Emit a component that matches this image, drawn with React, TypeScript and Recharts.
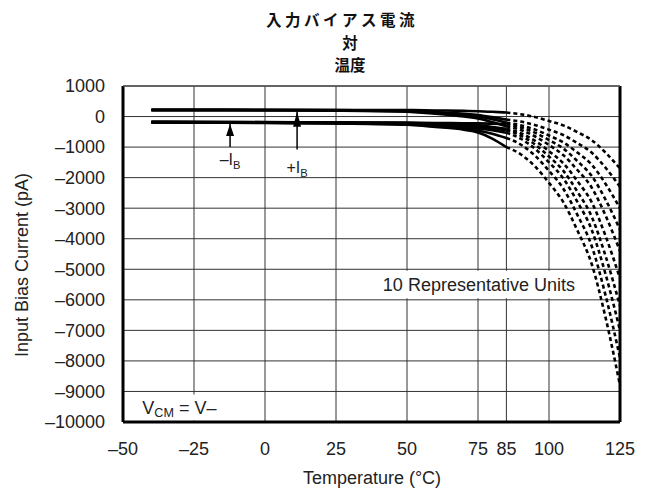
import { LineChart, Line, XAxis, YAxis, CartesianGrid, ReferenceLine, ReferenceArea, ReferenceDot } from 'recharts'

// temperatures (°C) of the read-off points
const solidTemps = [-40, -25, 0, 25, 50, 60, 70, 75, 80, 85]
const dashTemps = [85, 90, 95, 100, 105, 110, 115, 120, 125]

// input bias current (pA), one row per unit, measured range (solid)
const solidCurves: number[][] = [
  [220, 220, 220, 215, 210, 200, 185, 175, 155, 130],
  [220, 220, 215, 210, 190, 150, 90, 50, -20, -100],
  [215, 215, 210, 200, 170, 120, 50, 0, -90, -200],
  [-170, -175, -180, -190, -200, -210, -220, -225, -235, -250],
  [210, 210, 205, 195, 160, 90, 0, -60, -180, -320],
  [-175, -180, -185, -195, -210, -230, -260, -290, -340, -400],
  [-180, -185, -195, -205, -225, -260, -310, -340, -390, -450],
  [-185, -190, -200, -215, -240, -290, -350, -390, -450, -530],
  [-190, -195, -205, -220, -255, -320, -400, -460, -560, -700],
  [-195, -200, -210, -230, -270, -340, -430, -520, -720, -1000],
]

// same units above 85°C (dashed)
const dashCurves: number[][] = [
  [130, 75, -15, -145, -290, -510, -770, -1190, -1700],
  [-100, -165, -275, -430, -605, -870, -1180, -1685, -2300],
  [-200, -285, -425, -620, -845, -1180, -1570, -2215, -3000],
  [-250, -355, -525, -770, -1045, -1460, -1940, -2735, -3700],
  [-320, -440, -645, -930, -1260, -1750, -2320, -3260, -4400],
  [-400, -545, -790, -1135, -1525, -2115, -2800, -3930, -5300],
  [-450, -620, -910, -1310, -1770, -2460, -3270, -4590, -6200],
  [-530, -725, -1050, -1500, -2020, -2795, -3700, -5190, -7000],
  [-700, -915, -1275, -1780, -2355, -3220, -4230, -5885, -7900],
  [-1000, -1235, -1625, -2170, -2795, -3730, -4820, -6615, -8800],
]

const xTicks = [-50, -25, 0, 25, 50, 75, 85, 100, 125]
const yTicks = [1000, 0, -1000, -2000, -3000, -4000, -5000, -6000, -7000, -8000, -9000, -10000]
const titleLines = ['入力バイアス電流', '対', '温度']

const temps = Array.from(new Set([...solidTemps, ...dashTemps])).sort((a, b) => a - b)
const data = temps.map((t) => {
  const row: Record<string, number> = { t }
  const si = solidTemps.indexOf(t)
  const di = dashTemps.indexOf(t)
  solidCurves.forEach((c, i) => { if (si >= 0) row[`s${i}`] = c[si] })
  dashCurves.forEach((c, i) => { if (di >= 0) row[`d${i}`] = c[di] })
  return row
})

const FONT = '"Liberation Sans", Arial, Helvetica, sans-serif'
const fmt = (v: number) => (v < 0 ? `\u2013${Math.abs(v)}` : `${v}`)
const tickStyle = { fill: '#222', fontSize: 18, fontFamily: FONT }

const arrowHead = (h: number) => (p: any) => (
  <polygon points={`${p.cx},${p.cy} ${p.cx - 4},${p.cy + h} ${p.cx + 4},${p.cy + h}`} fill="#000" />
)

const subLabel = (main: string, sub: string, tail: string, size: number, anchor: string) => (p: any) => (
  <text x={p.cx} y={p.cy} textAnchor={anchor as any} dominantBaseline="central" fontFamily={FONT} fontSize={size} fill="#222">
    {main}
    <tspan fontSize={size * 0.7} dy={5}>{sub}</tspan>
    {tail && <tspan dy={-5}>{tail}</tspan>}
  </text>
)

export default function App() {
  return (
    <div style={{ position: 'absolute', left: 0, top: 0, width: 646, height: 493, background: '#fff' }}>
      {titleLines.map((s, i) => (
        <div key={s} style={{
          position: 'absolute', left: (i === 0 ? 342 : 350) - 100, top: 8 + i * 22.5, width: 200, height: 22,
          textAlign: 'center', fontFamily: '"Noto Sans CJK JP", sans-serif', fontWeight: 700, fontSize: 15.5,
          lineHeight: '22px', letterSpacing: i === 0 ? 3.5 : 0, color: '#111', whiteSpace: 'nowrap',
        }}>{s}</div>
      ))}
      <div style={{ position: 'absolute', left: 22 - 130, top: 265 - 12, width: 260, height: 24, lineHeight: '24px', textAlign: 'center', transform: 'rotate(-90deg)', fontFamily: FONT, fontSize: 18, color: '#222' }}>
        Input Bias Current (pA)
      </div>
      <div style={{ position: 'absolute', left: 222, top: 466, width: 300, textAlign: 'center', fontFamily: FONT, fontSize: 18, lineHeight: '24px', color: '#222' }}>
        Temperature (°C)
      </div>
      <LineChart width={646} height={493} data={data} margin={{ top: 86, right: 26, bottom: 0, left: 0 }}>
        <CartesianGrid stroke="#333" strokeWidth={1} />
        <XAxis dataKey="t" type="number" domain={[-50, 125]} ticks={xTicks} tickFormatter={fmt} height={71}
          axisLine={false} tickLine={false} tickSize={0} tickMargin={20} tick={tickStyle} interval={0} />
        <YAxis type="number" domain={[-10000, 1000]} ticks={yTicks} tickFormatter={fmt} width={123}
          axisLine={false} tickLine={false} tickSize={0} tickMargin={18} tick={tickStyle} interval={0} />
        <ReferenceArea x1={-45} x2={-14} y1={-9950} y2={-9100} fill="#fff" fillOpacity={1} stroke="none" />
        <ReferenceArea x1={40.5} x2={112} y1={-5950} y2={-5050} fill="#fff" fillOpacity={1} stroke="none" />
        {solidCurves.map((_, i) => (
          <Line key={`s${i}`} dataKey={`s${i}`} type="monotone" stroke="#000" strokeWidth={2.6} dot={false}
            isAnimationActive={false} connectNulls={false} />
        ))}
        {dashCurves.map((_, i) => (
          <Line key={`d${i}`} dataKey={`d${i}`} type="monotone" stroke="#000" strokeWidth={2.6} strokeDasharray="4 3"
            dot={false} isAnimationActive={false} connectNulls={false} />
        ))}
        <ReferenceLine x={-50} stroke="#000" strokeWidth={3} />
        <ReferenceLine x={125} stroke="#000" strokeWidth={3} />
        <ReferenceLine y={-10000} stroke="#000" strokeWidth={3} />
        <ReferenceLine y={1000} stroke="#555" strokeWidth={1.5} />
        <ReferenceLine segment={[{ x: -12.3, y: -240 }, { x: -12.3, y: -1000 }]} stroke="#000" strokeWidth={1.5} />
        <ReferenceDot x={-12.3} y={-240} r={0} ifOverflow="visible" shape={arrowHead(12)} />
        <ReferenceLine segment={[{ x: 11.3, y: 160 }, { x: 11.3, y: -1080 }]} stroke="#000" strokeWidth={1.5} />
        <ReferenceDot x={11.3} y={160} r={0} ifOverflow="visible" shape={arrowHead(15)} />
        <ReferenceDot x={-12.3} y={-1420} r={0} ifOverflow="visible" shape={subLabel('\u2013I', 'B', '', 16, 'middle')} />
        <ReferenceDot x={11.3} y={-1680} r={0} ifOverflow="visible" shape={subLabel('+I', 'B', '', 16, 'middle')} />
        <ReferenceDot x={-43.2} y={-9530} r={0} ifOverflow="visible" shape={subLabel('V', 'CM', ' = V\u2013', 18, 'start')} />
        <ReferenceDot x={41.5} y={-5510} r={0} ifOverflow="visible" shape={(p: any) => (
          <text x={p.cx} y={p.cy} dominantBaseline="central" fontFamily={FONT} fontSize={18} fill="#222">10 Representative Units</text>
        )} />
      </LineChart>
    </div>
  )
}
